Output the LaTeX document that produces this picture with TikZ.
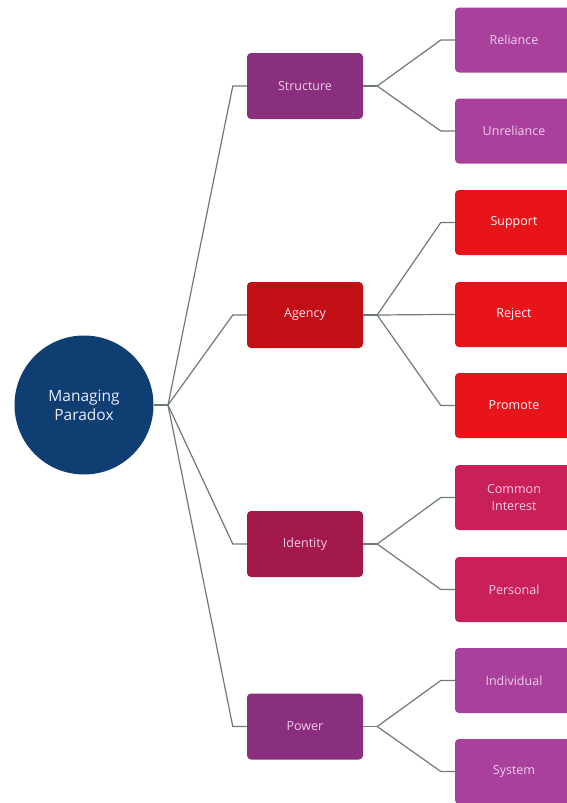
\documentclass[tikz,border=0pt]{standalone}
\usepackage{fontspec}
\setmainfont{Open Sans}
\definecolor{navy}{HTML}{0F3F72}
\definecolor{plum}{HTML}{8A2E7E}
\definecolor{plumlight}{HTML}{A8409C}
\definecolor{darkred}{HTML}{C20F16}
\definecolor{brightred}{HTML}{E8141A}
\definecolor{raspberry}{HTML}{A3194C}
\definecolor{raspberrylight}{HTML}{C9205A}
\definecolor{pinktext}{HTML}{F3CDEB}
\definecolor{linegray}{HTML}{6E7A7A}
\tikzset{
  parentbox/.style={draw=none, rounded corners=4pt, minimum width=116pt, minimum height=66pt, inner sep=0pt, align=center, font=\fontsize{12.5}{17}\selectfont},
  childbox/.style={draw=none, rounded corners=4pt, minimum width=118pt, minimum height=65pt, inner sep=0pt, align=center, font=\fontsize{12.5}{17}\selectfont},
  conn/.style={draw=linegray, line width=1.2pt},
}
\begin{document}
\begin{tikzpicture}[x=1pt,y=-1pt]
\clip (0,0) rectangle (567,803);
\fill[white] (0,0) rectangle (567,803);
% root
\node[circle, fill=navy, minimum size=139pt, inner sep=0pt, align=center, text=white!92!blue, font=\fontsize{15.5}{19}\selectfont] (root) at (84,405) {Managing\\Paradox};
\coordinate (rj) at (168,405);
% parents
\node[parentbox, fill=plum, text=pinktext] (structure) at (305,86) {Structure};
\node[parentbox, fill=darkred, text=pinktext!60!white] (agency) at (305,315) {Agency};
\node[parentbox, fill=raspberry, text=pinktext] (identity) at (305,544) {Identity};
\node[parentbox, fill=plum, text=pinktext] (power) at (305,726.5) {Power};
% children
\node[childbox, fill=plumlight, text=pinktext] (reliance) at (514,40) {Reliance};
\node[childbox, fill=plumlight, text=pinktext] (unreliance) at (514,131) {Unreliance};
\node[childbox, fill=brightred, text=white!90!pink] (support) at (514,222.5) {Support};
\node[childbox, fill=brightred, text=white!90!pink] (reject) at (514,314.5) {Reject};
\node[childbox, fill=brightred, text=white!90!pink] (promote) at (514,405.5) {Promote};
\node[childbox, fill=raspberrylight, text=pinktext] (common) at (514,497.5) {Common\\Interest};
\node[childbox, fill=raspberrylight, text=pinktext] (personal) at (514,589.5) {Personal};
\node[childbox, fill=plumlight, text=pinktext] (individual) at (514,680.5) {Individual};
\node[childbox, fill=plumlight, text=pinktext] (system) at (514,771.5) {System};
% root connectors
\draw[conn] (root.east) -- (rj);
\foreach \p in {structure,agency,identity,power}{
  \draw[conn] (rj) -- ([xshift=-14pt]\p.west) -- (\p.west);
}
% parent junctions
\coordinate (sj) at ([xshift=14pt]structure.east);
\coordinate (aj) at ([xshift=14pt]agency.east);
\coordinate (ij) at ([xshift=14pt]identity.east);
\coordinate (pj) at ([xshift=14pt]power.east);
\draw[conn] (structure.east) -- (sj);
\draw[conn] (agency.east) -- (aj);
\draw[conn] (identity.east) -- (ij);
\draw[conn] (power.east) -- (pj);
\foreach \c in {reliance,unreliance}{\draw[conn] (sj) -- ([xshift=-14pt]\c.west) -- (\c.west);}
\foreach \c in {support,reject,promote}{\draw[conn] (aj) -- ([xshift=-14pt]\c.west) -- (\c.west);}
\foreach \c in {common,personal}{\draw[conn] (ij) -- ([xshift=-14pt]\c.west) -- (\c.west);}
\foreach \c in {individual,system}{\draw[conn] (pj) -- ([xshift=-14pt]\c.west) -- (\c.west);}
\end{tikzpicture}
\end{document}
